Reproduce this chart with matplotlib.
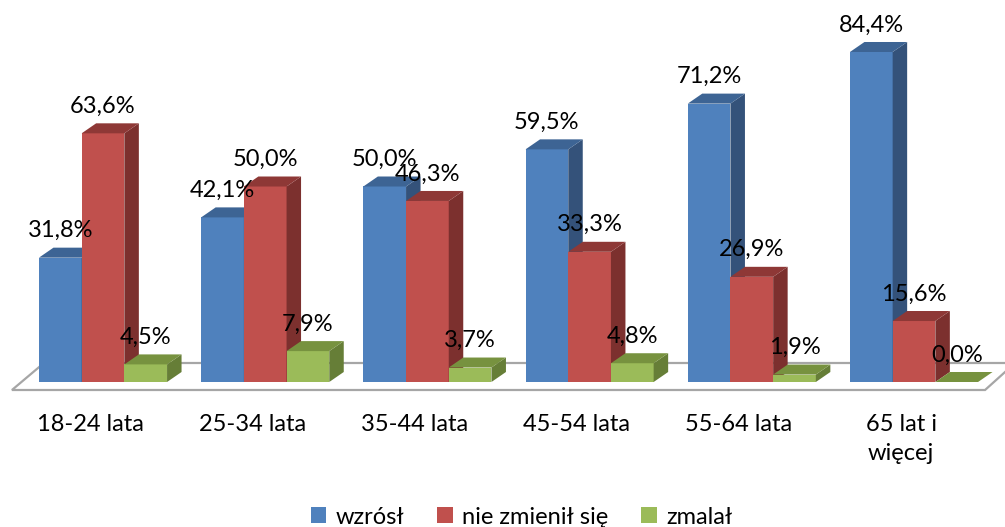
import matplotlib
matplotlib.use("Agg")
import matplotlib.pyplot as plt
from matplotlib.patches import Polygon, Patch

plt.rcParams['font.family'] = ['Lato', 'DejaVu Sans']

categories = ["18-24 lata", "25-34 lata", "35-44 lata", "45-54 lata",
              "55-64 lata", "65 lat i\nwięcej"]
series_names = ["wzrósł", "nie zmienił się", "zmalał"]
wzrosl = [31.8, 42.1, 50.0, 59.5, 71.2, 84.4]
bez_zmian = [63.6, 50.0, 46.3, 33.3, 26.9, 15.6]
zmalal = [4.5, 7.9, 3.7, 4.8, 1.9, 0.0]
series = [wzrosl, bez_zmian, zmalal]

front_colors = ["#4F81BD", "#C0504D", "#9BBB59"]
side_colors = ["#34527A", "#7C302E", "#667E37"]
top_colors = ["#3D6494", "#8E3836", "#77923F"]

W, H = 1005, 527
fig = plt.figure(figsize=(W / 100, H / 100), dpi=100)
ax = fig.add_axes([0, 0, 1, 1])

# pixel scale of the data axes
px_per_unit_x = 162.2
px_per_pct = 3.91
base_px = 382
ax.set_xlim(-103 / px_per_unit_x, (W - 103) / px_per_unit_x)
ax.set_ylim(-(H - base_px) / px_per_pct, base_px / px_per_pct)
ax.axis("off")

bar_w = 42.7 / px_per_unit_x
dx = 14.5 / px_per_unit_x      # depth offset, horizontal
dy = 10.0 / px_per_pct         # depth offset, vertical
n = len(categories)

# floor plane
fdx_l, fdx_r = 32 / px_per_unit_x, 30 / px_per_unit_x
f_front = -8 / px_per_pct
f_back = 19 / px_per_pct
x_left = -1.5 * bar_w - 27 / px_per_unit_x
x_right = (n - 1) + 1.5 * bar_w + 7 / px_per_unit_x
floor = Polygon([(x_left, f_front), (x_right, f_front),
                 (x_right + fdx_r, f_back), (x_left + fdx_l, f_back)],
                closed=True, facecolor="white", edgecolor="#A6A6A6",
                linewidth=1.6, joinstyle="miter", zorder=1)
ax.add_patch(floor)

def fmt(v):
    return f"{v:.1f}%".replace(".", ",")

FS = 17
z = 2
for i in range(n):
    for s, vals in enumerate(series):
        v = vals[i]
        x0 = i + (s - 1.5) * bar_w
        x1 = x0 + bar_w
        if v > 0:
            ax.add_patch(Polygon([(x0, 0), (x1, 0), (x1, v), (x0, v)],
                                 closed=True, facecolor=front_colors[s],
                                 edgecolor="none", zorder=z))
            ax.add_patch(Polygon([(x1, 0), (x1 + dx, dy), (x1 + dx, v + dy), (x1, v)],
                                 closed=True, facecolor=side_colors[s],
                                 edgecolor="none", zorder=z))
        ax.add_patch(Polygon([(x0, v), (x1, v), (x1 + dx, v + dy), (x0 + dx, v + dy)],
                             closed=True, facecolor=top_colors[s],
                             edgecolor="none", zorder=z))
        z += 1
        ax.annotate(fmt(v), xy=(x0 + bar_w / 2, v), xytext=(0, 19.5),
                    textcoords="offset points", ha="center", va="center",
                    fontsize=FS, color="#000000", zorder=100)

for i, cat in enumerate(categories):
    ax.annotate(cat, xy=(i - 13 / px_per_unit_x, 0), xytext=(0, -23),
                textcoords="offset points", ha="center", va="top",
                fontsize=FS, color="#000000", linespacing=1.5)

handles = [Patch(facecolor=c, edgecolor="none") for c in front_colors]
fig.legend(handles, series_names, loc="center", bbox_to_anchor=(0.519, 1 - 517 / H),
           ncol=3, frameon=False, fontsize=FS, handlelength=0.65,
           handleheight=0.65, handletextpad=0.4, columnspacing=1.4,
           borderpad=0)

fig.savefig("out.png", dpi=100)
